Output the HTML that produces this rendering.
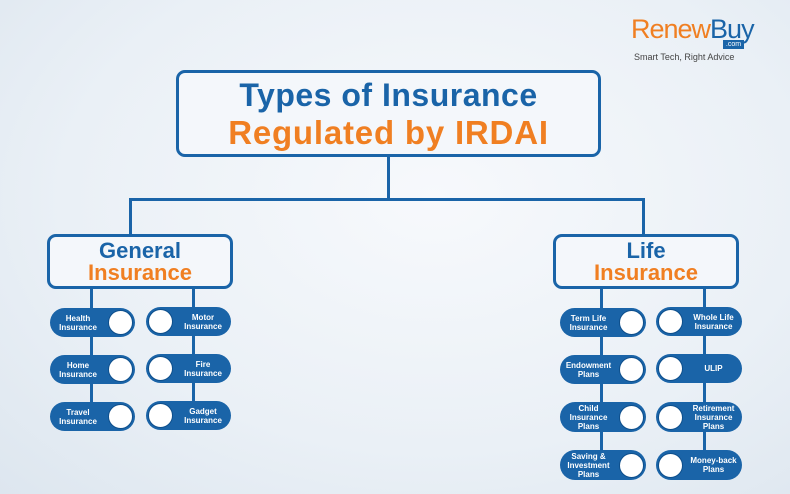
<!DOCTYPE html>
<html><head><style>
body{margin:0}
#c{position:relative;width:790px;height:494px;overflow:hidden;background:radial-gradient(ellipse at 55% 40%,#f7f9fc 0%,#eaf0f6 60%,#dde6ef 100%);font-family:"Liberation Sans",sans-serif}
.a{position:absolute}
.box{position:absolute;border:3px solid #1a64a8;border-radius:9px;background:#f4f7fb;box-sizing:border-box;text-align:center;font-weight:bold}
.ln{position:absolute;background:#1a64a8}
.p{position:absolute;height:29px;background:#1a64a8;border-radius:15px;color:#fff;font-size:8px;font-weight:bold;line-height:9px;display:flex;align-items:center;box-sizing:border-box}
.p .t{flex:1;text-align:center}
.p .o{width:25px;height:25px;border-radius:50%;background:#fff;border:1.5px solid #0e4f8c;box-sizing:border-box;margin:0 2px;flex:none}
.b{color:#1a64a8}.or{color:#f07f22}
</style></head><body><div id="c">
<div class="a" style="left:631px;top:14px;font-size:27px;letter-spacing:-1px"><span class="or">Renew</span><span class="b">Buy</span></div>
<div class="a" style="left:723px;top:40px;width:21px;height:9px;background:#1a64a8;color:#fff;font-size:7px;line-height:9px;text-align:center">.com</div>
<div class="a" style="left:634px;top:52px;font-size:9px;color:#444">Smart Tech, Right Advice</div>

<div class="ln" style="left:387px;top:156px;width:3px;height:45px"></div>
<div class="ln" style="left:129px;top:198px;width:516px;height:3px"></div>
<div class="ln" style="left:129px;top:198px;width:3px;height:37px"></div>
<div class="ln" style="left:642px;top:198px;width:3px;height:37px"></div>
<div class="ln" style="left:90px;top:286px;width:3px;height:120px"></div>
<div class="ln" style="left:192px;top:286px;width:3px;height:120px"></div>
<div class="ln" style="left:600px;top:286px;width:3px;height:170px"></div>
<div class="ln" style="left:703px;top:286px;width:3px;height:170px"></div>

<div class="box" style="left:176px;top:70px;width:425px;height:87px;padding-top:3px"><div class="b" style="font-size:32px;line-height:38px;letter-spacing:0.5px">Types of Insurance</div><div class="or" style="font-size:33px;line-height:38px;letter-spacing:0.8px">Regulated by IRDAI</div></div>
<div class="box" style="left:47px;top:234px;width:186px;height:55px;padding-top:3px;font-size:22px;line-height:22px"><div class="b">General</div><div class="or">Insurance</div></div>
<div class="box" style="left:553px;top:234px;width:186px;height:55px;padding-top:3px;font-size:22px;line-height:22px"><div class="b">Life</div><div class="or">Insurance</div></div>

<div class="p" style="left:50px;top:308px;width:85px"><span class="t">Health<br>Insurance</span><span class="o"></span></div>
<div class="p" style="left:50px;top:355px;width:85px"><span class="t">Home<br>Insurance</span><span class="o"></span></div>
<div class="p" style="left:50px;top:402px;width:85px"><span class="t">Travel<br>Insurance</span><span class="o"></span></div>
<div class="p" style="left:146px;top:307px;width:85px"><span class="o"></span><span class="t">Motor<br>Insurance</span></div>
<div class="p" style="left:146px;top:354px;width:85px"><span class="o"></span><span class="t">Fire<br>Insurance</span></div>
<div class="p" style="left:146px;top:401px;width:85px"><span class="o"></span><span class="t">Gadget<br>Insurance</span></div>

<div class="p" style="left:560px;top:308px;width:86px"><span class="t">Term Life<br>Insurance</span><span class="o"></span></div>
<div class="p" style="left:560px;top:355px;width:86px"><span class="t">Endowment<br>Plans</span><span class="o"></span></div>
<div class="p" style="left:560px;top:402px;width:86px;height:30px"><span class="t">Child<br>Insurance<br>Plans</span><span class="o"></span></div>
<div class="p" style="left:560px;top:450px;width:86px;height:30px"><span class="t">Saving &amp;<br>Investment<br>Plans</span><span class="o"></span></div>
<div class="p" style="left:656px;top:307px;width:86px"><span class="o"></span><span class="t">Whole Life<br>Insurance</span></div>
<div class="p" style="left:656px;top:354px;width:86px"><span class="o"></span><span class="t">ULIP</span></div>
<div class="p" style="left:656px;top:402px;width:86px;height:30px"><span class="o"></span><span class="t">Retirement<br>Insurance<br>Plans</span></div>
<div class="p" style="left:656px;top:450px;width:86px;height:30px"><span class="o"></span><span class="t">Money-back<br>Plans</span></div>
</div></body></html>
